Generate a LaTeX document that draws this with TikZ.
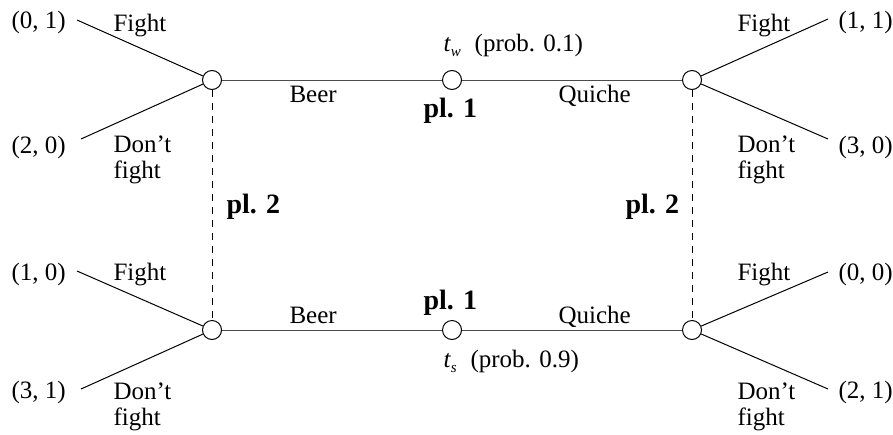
\documentclass[tikz,border=0pt]{standalone}
\usepackage{fontspec}
\setmainfont{Liberation Serif}
\usetikzlibrary{math}

\tikzset{
  infoset/.style={circle, draw, fill=white, inner sep=0pt, minimum size=9.5pt},
  lbl/.style={anchor=base west, inner sep=0pt, font=\fontsize{12.5}{12.8}\selectfont},
  plr/.style={anchor=base west, inner sep=0pt, font=\fontsize{14}{16}\selectfont\bfseries},
}
\newcommand{\typ}[1]{\textit{t}\raisebox{-0.5ex}{\fontsize{7.5}{8}\selectfont\textit{#1}}}

\begin{document}
\begin{tikzpicture}[x=0.5pt, y=-0.5pt, line width=0.5pt]
\useasboundingbox (0,0) rectangle (893,434);

\tikzmath{
\xl = 212; \xm = 452; \xr = 692;
\yt = 80; \yb = 330;
\xe = 77; \xf = 81; \xg = 828;
}

%decision nodes
\node[infoset] (wB) at (\xl,\yt) {};
\node[infoset] (w)  at (\xm,\yt) {};
\node[infoset] (wQ) at (\xr,\yt) {};
\node[infoset] (sB) at (\xl,\yb) {};
\node[infoset] (s)  at (\xm,\yb) {};
\node[infoset] (sQ) at (\xr,\yb) {};

%ends of the branches
\coordinate (wBf) at (\xe,20);
\coordinate (wBn) at (\xf,139);
\coordinate (wQf) at (\xg,19);
\coordinate (wQn) at (\xg,139);
\coordinate (sBf) at (\xe,271);
\coordinate (sBn) at (\xf,389);
\coordinate (sQf) at (\xg,272);
\coordinate (sQn) at (\xg,389);

%signals
\draw[black!70] (wB) -- (w);
\draw[black!70] (w) -- (wQ);
\draw[black!70] (sB) -- (s);
\draw[black!70] (s) -- (sQ);
\node[lbl] (wBeer) at (289,102) {Beer};
\node[lbl] (wQui)  at (558,102) {Quiche};
\node[lbl] (sBeer) at (289,323) {Beer};
\node[lbl] (sQui)  at (558,323) {Quiche};

%responses
\draw (wB) -- (wBf);
\draw (wB) -- (wBn);
\draw (wQ) -- (wQf);
\draw (wQ) -- (wQn);
\draw (sB) -- (sBf);
\draw (sB) -- (sBn);
\draw (sQ) -- (sQf);
\draw (sQ) -- (sQn);

\node[lbl] (wBfl) at (113,31) {Fight};
\node[lbl, align=left] (wBnl) at (113,178) {Don't\\fight};
\node[lbl] (wQfl) at (737,31) {Fight};
\node[lbl, align=left] (wQnl) at (737,178) {Don't\\fight};
\node[lbl] (sBfl) at (113,280) {Fight};
\node[lbl, align=left] (sBnl) at (113,425) {Don't\\fight};
\node[lbl] (sQfl) at (737,280) {Fight};
\node[lbl, align=left] (sQnl) at (737,425) {Don't\\fight};

%payoffs
\node[lbl] (p1) at (11,28) {(0, 1)};
\node[lbl] (p2) at (11,153) {(2, 0)};
\node[lbl] (p3) at (838,28) {(1, 1)};
\node[lbl] (p4) at (838,153) {(3, 0)};
\node[lbl] (p5) at (11,280) {(1, 0)};
\node[lbl] (p6) at (11,398) {(3, 1)};
\node[lbl] (p7) at (838,280) {(0, 0)};
\node[lbl] (p8) at (838,398) {(2, 1)};

%information sets of pl. 2
\draw[dash pattern=on 3.5pt off 3pt] (wB) -- (sB);
\draw[dash pattern=on 3.5pt off 3pt] (wQ) -- (sQ);
\node[plr] (pl2l) at (226,213) {pl. 2};
\node[plr] (pl2r) at (625,213) {pl. 2};

%types of pl. 1
\node[plr] (pl1w) at (423,117) {pl. 1};
\node[plr] (pl1s) at (423,309) {pl. 1};
\node[lbl] (tw) at (443,51) {\typ{w}\hspace{0.55em}(prob. 0.1)};
\node[lbl] (ts) at (443,367) {\typ{s}\hspace{0.55em}(prob. 0.9)};

\end{tikzpicture}
\end{document}
